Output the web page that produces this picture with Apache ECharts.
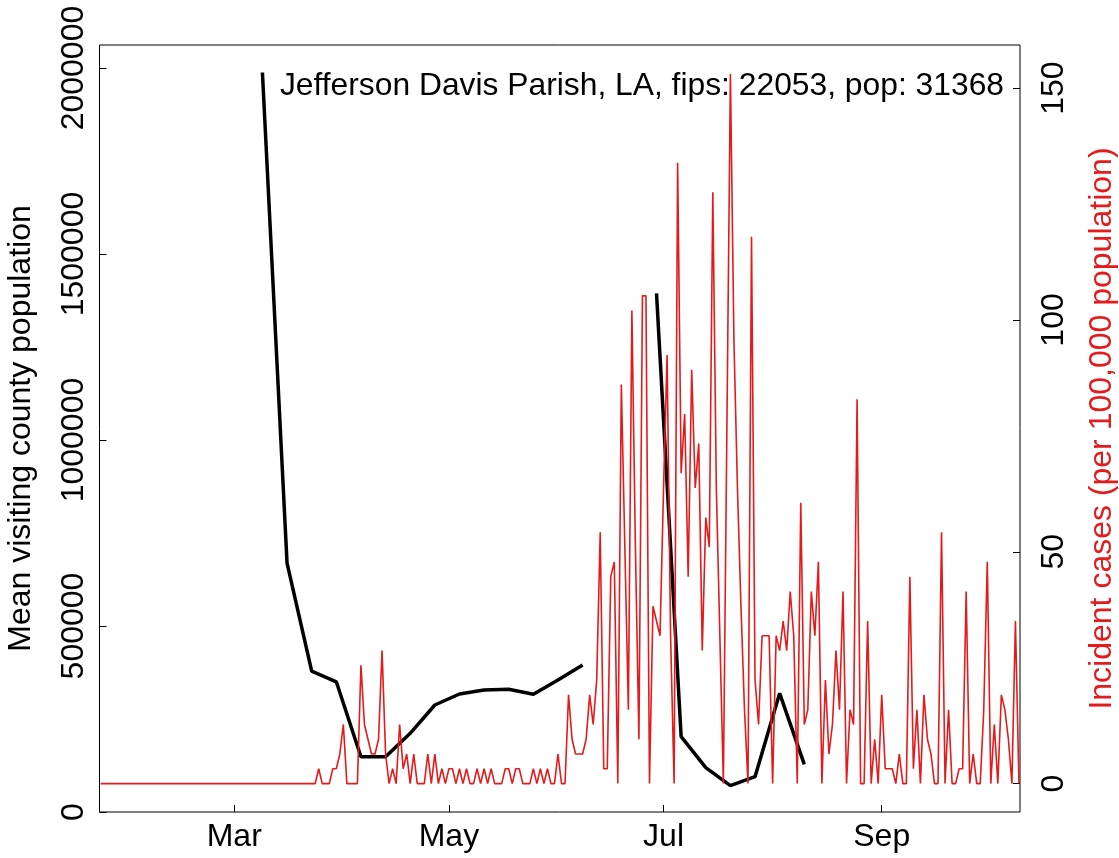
<!DOCTYPE html>
<html>
<head>
<meta charset="utf-8">
<script src="https://cdn.jsdelivr.net/npm/echarts@6/dist/echarts.min.js"></script>
<style>
html,body{margin:0;padding:0;background:#fff;}
#chart{width:1119px;height:858px;}
</style>
</head>
<body>
<div id="chart"></div>
<script>
// x axis: day of year 2020 (Jan 1 = 0)
const tickDays = [60, 121, 182, 244];
const tickLabels = ['Mar', 'May', 'Jul', 'Sep'];
const leftTicks = [0, 500000, 1000000, 1500000, 2000000];
const rightTicks = [0, 50, 100, 150];

// Mean visiting county population (weekly)
const blackDays = [68, 75, 82, 89, 96, 103, 110, 117, 124, 131, 138, 145, 152, 159, 166, 173, 180, 187, 194, 201, 208, 215, 222];
const blackValues = [1988000, 669000, 379000, 350000, 148700, 148700, 211500, 287600, 317200, 328000, 329800, 316400, 354800, 395100, null, null, 1394300, 202400, 119100, 70700, 94900, 319100, 128200];

// Incident cases per 100,000 population (daily, first day = day 22)
const redStartDay = 22;
const redValues = [
  0,0,0,0,0,0,0,0,0,0,
  0,0,0,0,0,0,0,0,0,0,
  0,0,0,0,0,0,0,0,0,0,
  0,0,0,0,0,0,0,0,0,0,
  0,0,0,0,0,0,0,0,0,0,
  0,0,0,0,0,0,0,0,0,0,
  0,0,
  3.19,0,0,0,3.19,3.19,6.38,12.75,0,0,
  0,0,25.5,12.75,9.56,6.38,6.38,9.56,28.69,6.38,
  0,3.19,0,12.75,3.19,6.38,0,6.38,0,0,
  0,6.38,0,6.38,0,3.19,0,3.19,3.19,0,
  3.19,0,3.19,0,0,3.19,0,3.19,0,3.19,
  0,0,0,3.19,3.19,0,3.19,3.19,0,0,
  0,3.19,0,3.19,0,3.19,0,0,6.38,0,
  0,19.13,9.56,6.38,6.38,6.38,9.56,19.13,12.75,22.32,
  54.2,3.19,3.19,44.63,47.82,0,86.08,51.01,15.94,102.01,
  51.01,9.56,105.2,105.2,0,38.26,35.07,31.88,63.76,92.45,
  31.88,0,133.89,66.95,79.7,44.63,89.26,63.76,73.32,28.69,
  57.38,51.01,127.52,63.76,31.88,0,76.51,153.02,95.64,63.76,
  38.26,15.94,0,117.95,22.32,12.75,31.88,31.88,31.88,0,
  31.88,28.69,35.07,28.69,41.44,31.88,0,60.57,12.75,15.94,
  41.44,31.88,47.82,0,22.32,6.38,12.75,28.69,15.94,41.44,
  0,15.94,12.75,82.89,0,0,35.07,0,9.56,0,
  19.13,3.19,3.19,3.19,0,6.38,0,0,44.63,3.19,
  15.94,0,19.13,9.56,6.38,0,0,54.2,0,15.94,
  0,0,3.19,3.19,41.44,0,6.38,0,0,15.94,
  47.82,0,12.75,0,19.13,15.94,9.56,0,35.07,0
];

const titleText = 'Jefferson Davis Parish, LA, fips: 22053, pop: 31368';
const leftName = 'Mean visiting county population';
const rightName = 'Incident cases (per 100,000 population)';

const FONT = 'Liberation Sans';
const chart = echarts.init(document.getElementById('chart'), null, {renderer: 'canvas'});

const blackData = blackDays.map((d, i) => [d, blackValues[i] === null ? '-' : blackValues[i]]);
const redData = redValues.map((v, i) => [redStartDay + i, v]);

chart.setOption({
  animation: false,
  backgroundColor: '#fff',
  grid: {
    left: 99.5, right: 99, top: 45, bottom: 46,
    show: true, borderColor: '#000', borderWidth: 1,
    containLabel: false, outerBoundsMode: 'none'
  },
  xAxis: {
    type: 'value', min: 21.7, max: 283.3,
    axisLine: {show: false},
    splitLine: {show: false},
    axisTick: {show: true, inside: true, length: 7, lineStyle: {color: '#000', width: 1}, customValues: tickDays},
    axisLabel: {
      customValues: tickDays,
      formatter: v => tickLabels[tickDays.indexOf(v)],
      fontFamily: FONT, fontSize: 32, color: '#000', margin: 9
    }
  },
  yAxis: [
    {
      type: 'value', position: 'left', min: 0, max: 2062000,
      axisLine: {show: false}, splitLine: {show: false},
      axisTick: {show: true, inside: true, length: 7, lineStyle: {color: '#000', width: 1}, customValues: leftTicks},
      axisLabel: {
        customValues: leftTicks, rotate: 90,
        formatter: v => String(v),
        fontFamily: FONT, fontSize: 32, color: '#000', margin: 9
      },
      name: leftName, nameLocation: 'middle', nameRotate: 90, nameGap: 62,
      nameTextStyle: {fontFamily: FONT, fontSize: 32, color: '#000'}
    },
    {
      type: 'value', position: 'right', min: -6.13, max: 159.3,
      axisLine: {show: false}, splitLine: {show: false},
      axisTick: {show: true, inside: true, length: 7, lineStyle: {color: '#000', width: 1}, customValues: rightTicks},
      axisLabel: {
        customValues: rightTicks, rotate: 90,
        formatter: v => String(v),
        fontFamily: FONT, fontSize: 32, color: '#000', margin: 18
      },
      name: rightName, nameLocation: 'middle', nameRotate: 90, nameGap: 66,
      nameTextStyle: {fontFamily: FONT, fontSize: 32, color: '#E41A1C'}
    }
  ],
  graphic: [{
    type: 'text', x: 1004, y: 86, z: 100,
    style: {
      text: titleText, fill: '#000',
      font: '31.8px "' + FONT + '"',
      textAlign: 'right', textVerticalAlign: 'middle', verticalAlign: 'middle'
    }
  }],
  series: [
    {
      type: 'line', yAxisIndex: 0, data: blackData, showSymbol: false, connectNulls: false,
      lineStyle: {color: '#000', width: 3.5}, itemStyle: {color: '#000'}, z: 2
    },
    {
      type: 'line', yAxisIndex: 1, data: redData, showSymbol: false,
      lineStyle: {color: '#E41A1C', width: 1.6}, itemStyle: {color: '#E41A1C'}, z: 3
    }
  ]
});
</script>
</body>
</html>
